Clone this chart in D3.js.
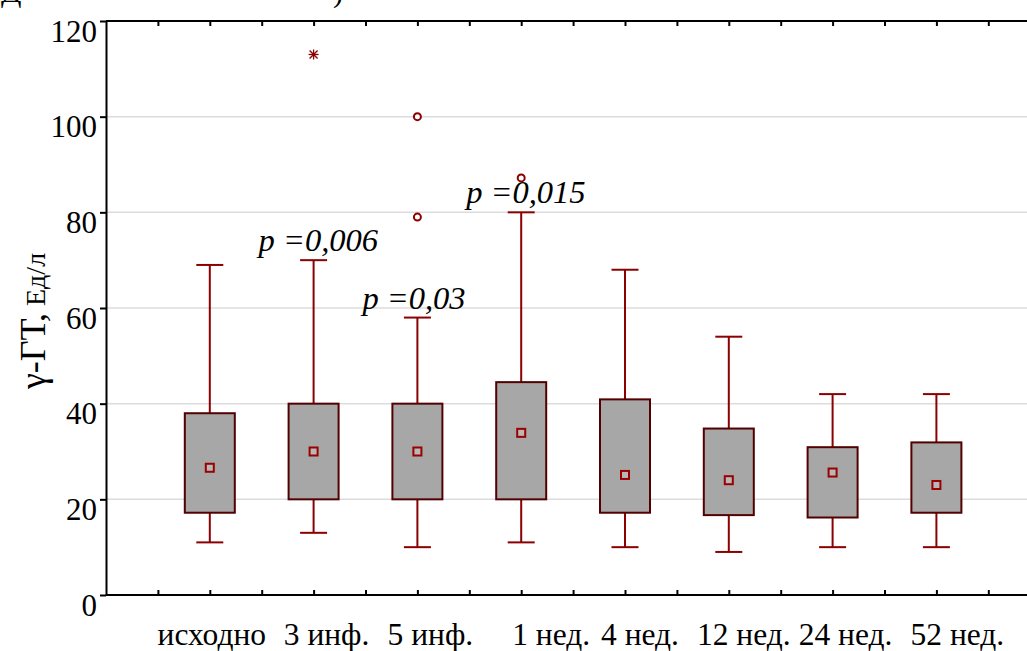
<!DOCTYPE html>
<html lang="ru">
<head>
    <meta charset="UTF-8">
    <title>γ-ГТ box plot</title>
    <script src="https://cdnjs.cloudflare.com/ajax/libs/d3/7.8.5/d3.min.js"></script>
    <style>
        body {
            margin: 0;
            background: #fff;
            overflow: hidden;
        }
        svg text { fill: #000; }
        .grid line { stroke: #dcdcdc; stroke-width: 1.5px; }
        .axis path, .axis line { stroke: #000; stroke-width: 2px; }
    </style>
</head>
<body>
    <div id="chart"></div>
    <script>
    // categories and box stats
    const categories = ["исходно", "3 инф.", "5 инф.", "1 нед.", "4 нед.", "12 нед.", "24 нед.", "52 нед."];
    const whiskerLow  = [11, 13, 10, 11, 10, 9, 10, 10];
    const boxLow      = [17.2, 20, 20, 20, 17.2, 16.7, 16.2, 17.2];
    const centerValue = [26.6, 30, 30, 33.9, 25.1, 24, 25.6, 23];
    const boxHigh     = [38, 40, 40, 44.5, 40.9, 34.8, 30.9, 31.9];
    const whiskerHigh = [69, 70, 58, 80, 68, 54, 42, 42];
    // outliers: [category index, value, kind]
    const outliers = [[1, 113, "extreme"], [2, 100, "outlier"], [2, 79, "outlier"], [3, 87.2, "outlier"]];
    // p-values written above whiskers
    const pLabels = [[1, "p =0,006"], [2, "p =0,03"], [3, "p =0,015"]];
    const yTicks = [0, 20, 40, 60, 80, 100, 120];

    (function() {
    // pick whatever Times-like face is installed
    function pickSerif() {
        const ctx = document.createElement("canvas").getContext("2d");
        const probe = "исходно 3 инф. mmmwwwiii 0123";
        const width = f => { ctx.font = "40px " + f; return ctx.measureText(probe).width; };
        const mono = width("monospace");
        const names = ["Liberation Serif", "Times New Roman", "Tinos", "DejaVu Serif", "Noto Serif", "FreeSerif"];
        for (const n of names) {
            const w1 = width(`'${n}', monospace`), w2 = width(`'${n}', sans-serif`);
            if (w1 === w2 && w1 !== mono) return `'${n}', serif`;
        }
        return "serif";
    }
    const serif = pickSerif();
    d3.select("body").style("font-family", serif);

    const width = 1027, height = 651;
    const plotLeft = 106, plotTop = 21, plotBottom = 595, step = 103.8;

    const svg = d3.select("#chart").append("svg")
        .attr("width", width)
        .attr("height", height)
        .style("font-family", serif);

    const x = d3.scaleLinear().domain([0, 9]).range([plotLeft, plotLeft + 9 * step]);
    const y = d3.scaleLinear().domain([0, 120]).range([plotBottom, plotTop]);

    // grid
    svg.append("g").attr("class", "grid")
        .selectAll("line")
        .data(yTicks.filter(v => v > 0 && v < 120))
        .join("line")
        .attr("x1", plotLeft).attr("x2", width)
        .attr("y1", d => y(d)).attr("y2", d => y(d));

    const halfTicks = d3.range(1, 18).map(i => i / 2);

    // bottom axis, inward ticks
    const bottomAxis = svg.append("g").attr("class", "axis")
        .attr("transform", `translate(0,${plotBottom})`)
        .call(d3.axisBottom(x).tickValues(halfTicks).tickSize(-5).tickSizeOuter(0).tickFormat(""));
    bottomAxis.select(".domain").attr("d", `M${plotLeft},0H${width}`);

    // top axis, inward ticks
    const topAxis = svg.append("g").attr("class", "axis")
        .attr("transform", `translate(0,${plotTop})`)
        .call(d3.axisTop(x).tickValues(halfTicks).tickSize(-5).tickSizeOuter(0).tickFormat(""));
    topAxis.select(".domain").attr("d", `M${plotLeft},0H${width}`);

    // left axis
    const leftAxis = svg.append("g").attr("class", "axis")
        .attr("transform", `translate(${plotLeft},0)`)
        .call(d3.axisLeft(y).tickValues(yTicks).tickSize(6).tickSizeOuter(0).tickPadding(3));
    leftAxis.attr("font-family", null).attr("font-size", null);
    leftAxis.selectAll("text")
        .attr("dy", null)
        .attr("y", 20)
        .style("font-family", serif)
        .style("font-size", "31px");

    // x labels (typed slightly right of ticks in the original)
    const labelNudge = [2, 13, 13, 30, 15, 15, 13, 21];
    svg.append("g").selectAll("text")
        .data(categories)
        .join("text")
        .attr("x", (d, i) => x(i + 1) + labelNudge[i])
        .attr("y", 645)
        .attr("text-anchor", "middle")
        .style("font-size", "31.5px")
        .text(d => d);

    // y title
    const yTitle = svg.append("text")
        .attr("transform", "translate(45,321) rotate(-90)")
        .attr("text-anchor", "middle");
    yTitle.append("tspan").style("font-size", "36px").text("γ-ГТ,");
    yTitle.append("tspan").style("font-size", "28px").text(" Ед/л");

    // boxes
    const boxW = 50, capW = 27, mark = 8;
    const g = svg.append("g");
    const items = categories.map((c, i) => ({
        i, lo: whiskerLow[i], q1: boxLow[i], mid: centerValue[i], q3: boxHigh[i], hi: whiskerHigh[i]
    }));
    const box = g.selectAll("g.box").data(items).join("g").attr("class", "box");

    box.append("line")
        .attr("x1", d => x(d.i + 1)).attr("x2", d => x(d.i + 1))
        .attr("y1", d => y(d.hi)).attr("y2", d => y(d.lo))
        .attr("stroke", "#8b0000").attr("stroke-width", 2);
    box.append("line")
        .attr("x1", d => x(d.i + 1) - capW / 2).attr("x2", d => x(d.i + 1) + capW / 2)
        .attr("y1", d => y(d.hi)).attr("y2", d => y(d.hi))
        .attr("stroke", "#8b0000").attr("stroke-width", 2);
    box.append("line")
        .attr("x1", d => x(d.i + 1) - capW / 2).attr("x2", d => x(d.i + 1) + capW / 2)
        .attr("y1", d => y(d.lo)).attr("y2", d => y(d.lo))
        .attr("stroke", "#8b0000").attr("stroke-width", 2);
    box.append("rect")
        .attr("x", d => x(d.i + 1) - boxW / 2)
        .attr("y", d => y(d.q3))
        .attr("width", boxW)
        .attr("height", d => y(d.q1) - y(d.q3))
        .attr("fill", "#a7a7a7")
        .attr("stroke", "#520000").attr("stroke-width", 2);
    box.append("rect")
        .attr("x", d => x(d.i + 1) - mark / 2)
        .attr("y", d => y(d.mid) - mark / 2)
        .attr("width", mark).attr("height", mark)
        .attr("fill", "#b8b8b8")
        .attr("stroke", "#9a0000").attr("stroke-width", 2);

    // outliers
    outliers.forEach(([i, v, kind]) => {
        const cx = x(i + 1), cy = y(v);
        if (kind === "outlier") {
            svg.append("circle")
                .attr("cx", cx).attr("cy", cy).attr("r", 3.5)
                .attr("fill", "#fff").attr("stroke", "#8b0000").attr("stroke-width", 2);
        } else {
            const s = svg.append("g").attr("stroke", "#8b0000").attr("stroke-width", 1.3);
            s.append("line").attr("x1", cx - 5).attr("x2", cx + 5).attr("y1", cy).attr("y2", cy);
            s.append("line").attr("x1", cx).attr("x2", cx).attr("y1", cy - 5).attr("y2", cy + 5);
            s.append("line").attr("x1", cx - 4).attr("x2", cx + 4).attr("y1", cy - 4).attr("y2", cy + 4);
            s.append("line").attr("x1", cx - 4).attr("x2", cx + 4).attr("y1", cy + 4).attr("y2", cy - 4);
        }
    });

    // p-value notes
    svg.append("g").selectAll("text")
        .data(pLabels)
        .join("text")
        .attr("x", d => x(d[0] + 1) - 55)
        .attr("y", d => y(whiskerHigh[d[0]]) - 9)
        .style("font-size", "32.5px")
        .style("font-style", "italic")
        .text(d => d[1]);

    // clipped caption from above the figure
    svg.append("text").attr("x", 1).attr("y", 2).style("font-size", "30px").text("Д");
    svg.append("text").attr("x", 333).attr("y", 2).style("font-size", "30px").text(")");
    })();
    </script>
</body>
</html>
